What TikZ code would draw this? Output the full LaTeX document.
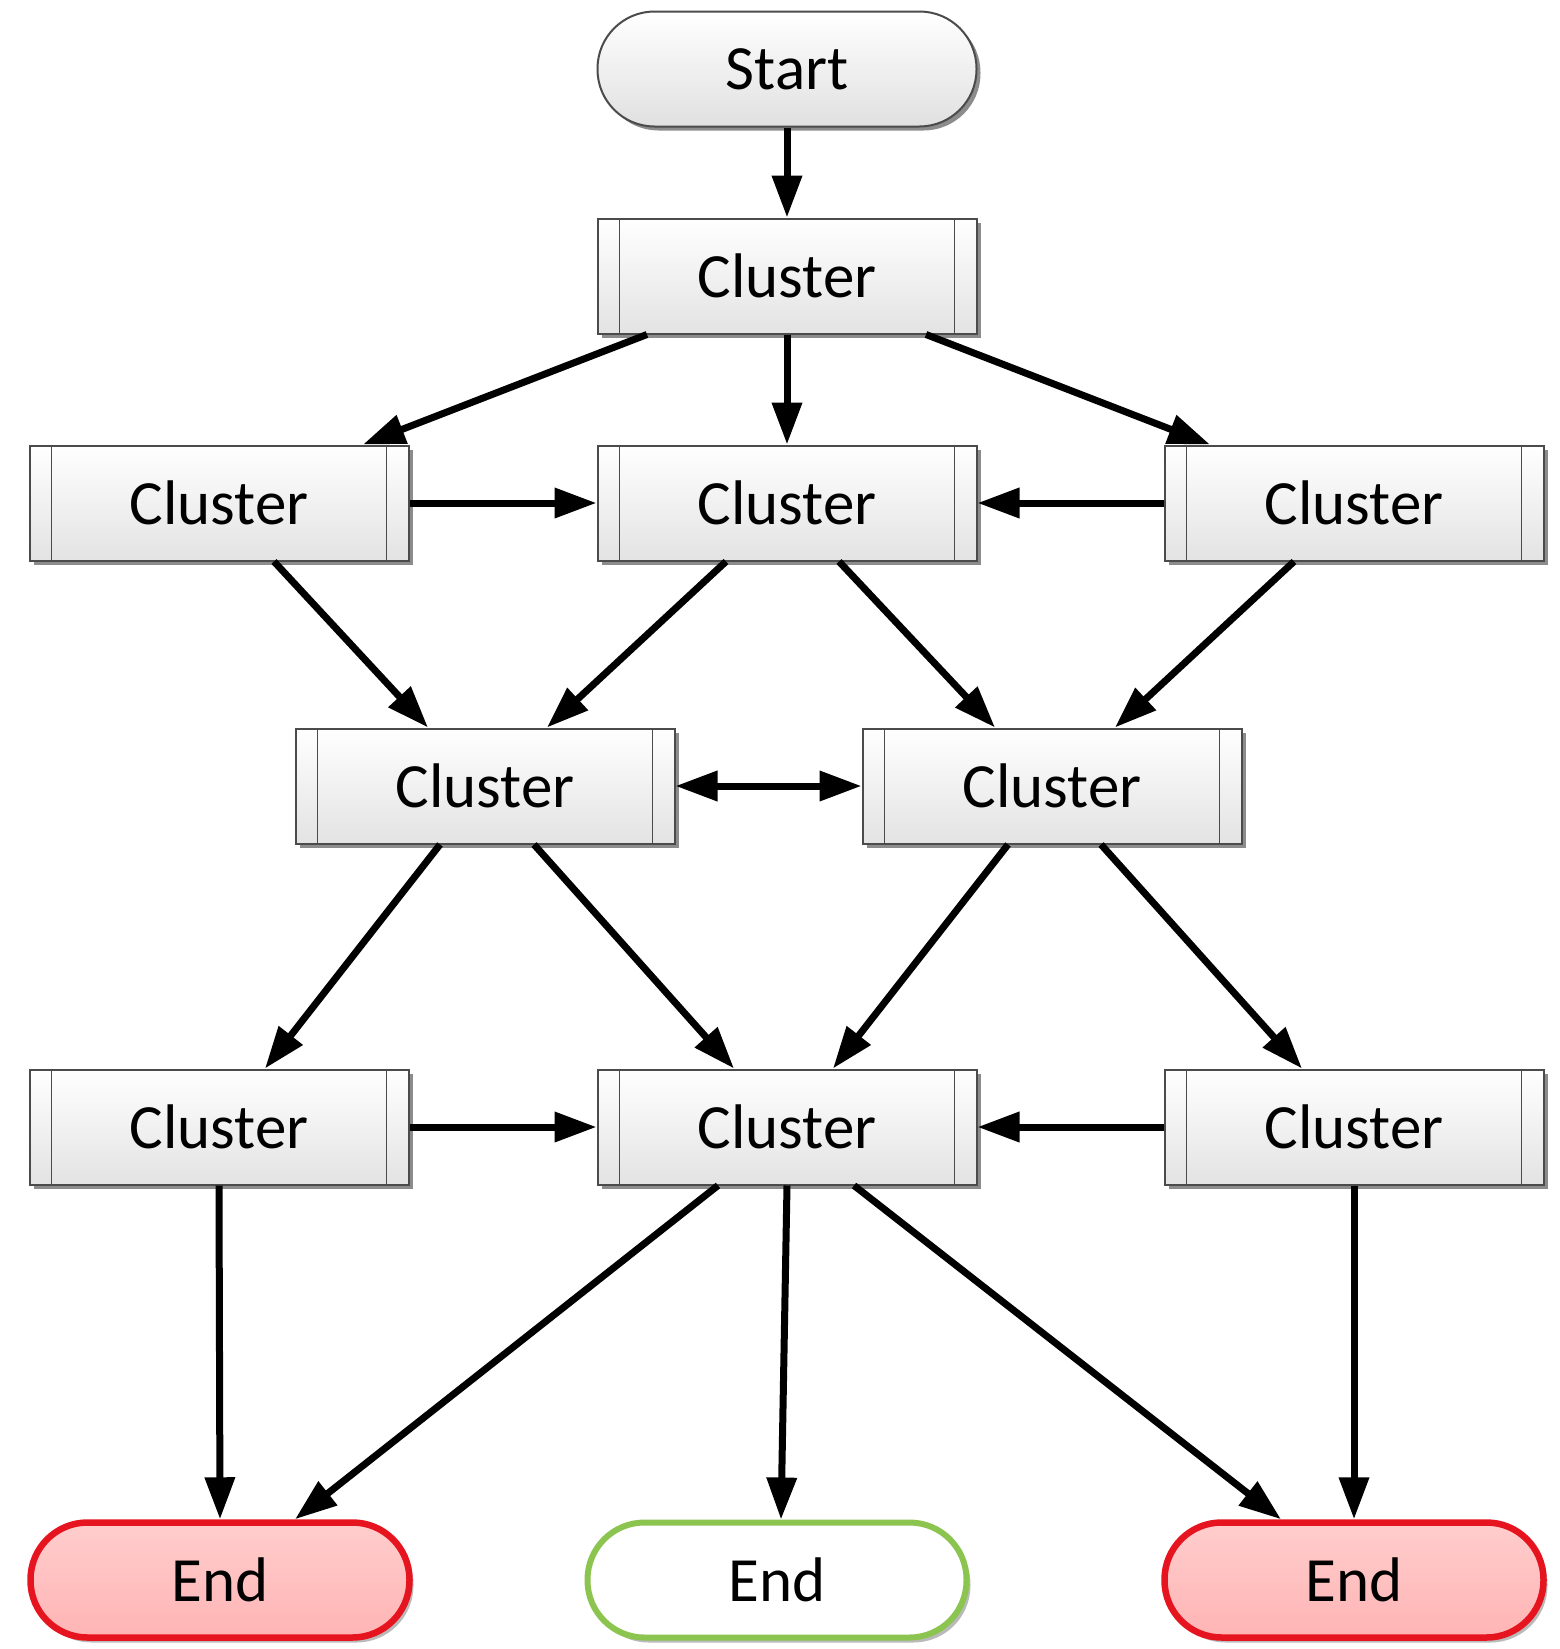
\documentclass[tikz,border=0pt]{standalone}
\usepackage{fontspec}
\setmainfont{Carlito}
\usetikzlibrary{arrows.meta,shadows}

\definecolor{borderGray}{RGB}{75,75,75}
\definecolor{endRed}{RGB}{230,20,30}
\definecolor{endPinkTop}{RGB}{255,205,205}
\definecolor{endPinkBot}{RGB}{255,180,180}
\definecolor{endGreen}{RGB}{140,196,80}

\begin{document}
\begin{tikzpicture}[x=1pt,y=1pt,
  base/.style={minimum width=379pt, minimum height=115pt, inner sep=0pt,
    font=\fontsize{63}{75}\selectfont},
  softshadow/.style={drop shadow={shadow xshift=4pt, shadow yshift=-4pt,
    fill=black!60, opacity=0.75}},
  cluster/.style={base, rectangle, draw=borderGray, line width=2pt,
    top color=white, bottom color=black!11, softshadow,
    path picture={\draw[borderGray, line width=1.6pt]
      ([xshift=22pt]path picture bounding box.north west) --
      ([xshift=22pt]path picture bounding box.south west)
      ([xshift=-22pt]path picture bounding box.north east) --
      ([xshift=-22pt]path picture bounding box.south east);}},
  terminal/.style={base, rectangle, rounded corners=57pt},
  startnode/.style={terminal, draw=borderGray, line width=2pt,
    top color=white, bottom color=black!12, softshadow},
  endfail/.style={terminal, draw=endRed, line width=6.5pt,
    top color=endPinkTop, bottom color=endPinkBot,
    drop shadow={shadow xshift=4pt, shadow yshift=-5pt, fill=black!45, opacity=0.6}},
  endok/.style={terminal, draw=endGreen, line width=6pt, fill=white,
    drop shadow={shadow xshift=4pt, shadow yshift=-5pt, fill=black!45, opacity=0.6}},
  arr/.style={line width=7pt, -{Triangle[length=42pt,width=29pt]}},
  biarr/.style={line width=7pt, {Triangle[length=42pt,width=29pt]}-{Triangle[length=42pt,width=29pt]}}
]
\useasboundingbox (0,0) rectangle (1559,-1649);

% nodes
\node[startnode] (S) at (787,-69) {Start};
\node[cluster] (A) at (787,-276) {Cluster};

\node[cluster] (L2) at (219,-503) {Cluster};
\node[cluster] (M2) at (787,-503) {Cluster};
\node[cluster] (R2) at (1354,-503) {Cluster};

\node[cluster] (L3) at (485,-786) {Cluster};
\node[cluster] (R3) at (1052,-786) {Cluster};

\node[cluster] (L4) at (219,-1127) {Cluster};
\node[cluster] (M4) at (787,-1127) {Cluster};
\node[cluster] (R4) at (1354,-1127) {Cluster};

\node[endfail] (E1) at (220,-1580) {End};
\node[endok]   (E2) at (777,-1580) {End};
\node[endfail] (E3) at (1354,-1580) {End};

% connectors
\draw[arr] (S.south) -- (A.north);
\draw[arr] ([xshift=-140pt]A.south) -- ([xshift=144pt]L2.north);
\draw[arr] (A.south) -- (M2.north);
\draw[arr] ([xshift=139pt]A.south) -- ([xshift=-144pt]R2.north);

\draw[arr] (L2.east) -- (M2.west);
\draw[arr] (R2.west) -- (M2.east);

\draw[arr] ([xshift=55pt]L2.south) -- ([xshift=-57pt]L3.north);
\draw[arr] ([xshift=-61pt]M2.south) -- ([xshift=62pt]L3.north);
\draw[arr] ([xshift=52pt]M2.south) -- ([xshift=-57pt]R3.north);
\draw[arr] ([xshift=-60pt]R2.south) -- ([xshift=63pt]R3.north);

\draw[biarr] (L3.east) -- (R3.west);

\draw[arr] ([xshift=-45pt]L3.south) -- ([xshift=46pt]L4.north);
\draw[arr] ([xshift=49pt]L3.south) -- ([xshift=-53pt]M4.north);
\draw[arr] ([xshift=-44pt]R3.south) -- ([xshift=46pt]M4.north);
\draw[arr] ([xshift=49pt]R3.south) -- ([xshift=-52pt]R4.north);

\draw[arr] (L4.east) -- (M4.west);
\draw[arr] (R4.west) -- (M4.east);

\draw[arr] (L4.south) -- (E1.north);
\draw[arr] ([xshift=-69pt]M4.south) -- ([xshift=75pt]E1.north);
\draw[arr] (M4.south) -- ([xshift=4pt]E2.north);
\draw[arr] ([xshift=67pt]M4.south) -- ([xshift=-73pt]E3.north);
\draw[arr] (R4.south) -- (E3.north);
\end{tikzpicture}
\end{document}
